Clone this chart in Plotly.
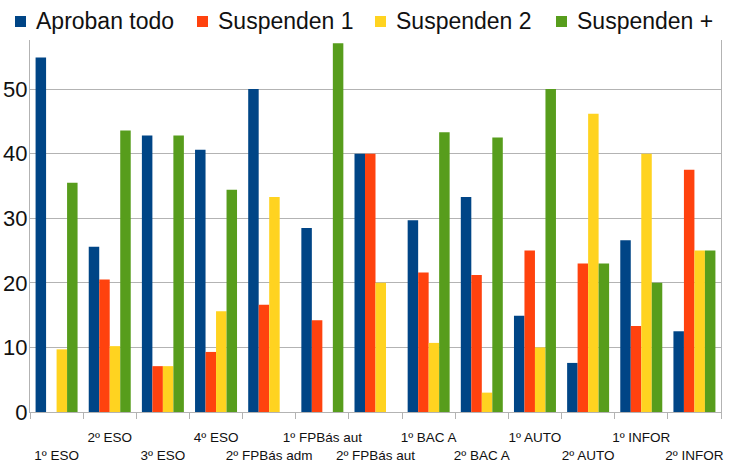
import plotly.graph_objects as go

categories = ["1º ESO", "2º ESO", "3º ESO", "4º ESO", "2º FPBás adm", "1º FPBás aut",
              "2º FPBás aut", "1º BAC A", "2º BAC A", "1º AUTO", "2º AUTO", "1º INFOR", "2º INFOR"]
aproban_todo = [54.9, 25.6, 42.8, 40.6, 50.0, 28.5, 40.0, 29.7, 33.3, 14.9, 7.6, 26.6, 12.5]
suspenden_1 = [0, 20.5, 7.1, 9.3, 16.6, 14.2, 40.0, 21.6, 21.2, 25.0, 23.0, 13.3, 37.5]
suspenden_2 = [9.7, 10.2, 7.1, 15.6, 33.3, 0, 20.0, 10.7, 3.0, 10.0, 46.2, 40.0, 25.0]
suspenden_mas = [35.5, 43.6, 42.8, 34.4, 0, 57.1, 0, 43.3, 42.5, 50.0, 23.0, 20.0, 25.0]

series_names = ["Aproban todo", "Suspenden 1", "Suspenden 2", "Suspenden +"]
series_values = [aproban_todo, suspenden_1, suspenden_2, suspenden_mas]
colors = ["#004586", "#ff420e", "#ffd320", "#579d1c"]

# staggered tick labels: odd positions on the lower row
tick_text = [("<br>" + c) if i % 2 == 0 else c for i, c in enumerate(categories)]

W, H = 734, 463
ML, MR, MT, MB = 30, 13, 40, 51
PW, PH = W - ML - MR, H - MT - MB


def px_to_paper_x(p):
    return (p - ML) / PW


def px_to_paper_y(p):
    return (H - MB - p) / PH


fig = go.Figure()
for name, vals, col in zip(series_names, series_values, colors):
    fig.add_trace(go.Bar(x=categories, y=vals, name=name, marker_color=col,
                         marker_line_width=0))

# manual legend: colour squares + labels
legend_sq_px = [15, 197, 375, 556]
for name, col, sx in zip(series_names, colors, legend_sq_px):
    fig.add_shape(type="rect", xref="paper", yref="paper",
                  x0=px_to_paper_x(sx), x1=px_to_paper_x(sx + 11),
                  y0=px_to_paper_y(27), y1=px_to_paper_y(16),
                  fillcolor=col, line_width=0)
    fig.add_annotation(
        xref="paper", yref="paper", x=px_to_paper_x(sx + 19), y=px_to_paper_y(21),
        xanchor="left", yanchor="middle", text=name, showarrow=False,
        font=dict(size=23, color="#111", family="Liberation Sans, Arial, sans-serif"),
    )

fig.update_layout(
    width=W, height=H,
    margin=dict(l=ML, r=MR, t=MT, b=MB, autoexpand=False),
    barmode="group", bargap=0.21, bargroupgap=0,
    showlegend=False,
    plot_bgcolor="white", paper_bgcolor="white",
    font=dict(family="Liberation Sans, Arial, sans-serif", color="#111"),
)
fig.update_xaxes(
    type="category", tickmode="array", tickvals=categories, ticktext=tick_text,
    tickson="boundaries", ticks="outside", ticklen=6, tickcolor="#b3b3b3",
    tickangle=0, automargin=False, ticklabelstandoff=13,
    showgrid=False, showline=True, linecolor="#b3b3b3", linewidth=1,
    tickfont=dict(size=13.5, family="Liberation Sans Narrow, Arial Narrow, Liberation Sans, sans-serif", color="#111"),
)
fig.update_yaxes(
    range=[0, 57.6], tickvals=[0, 10, 20, 30, 40, 50], automargin=False,
    showgrid=True, gridcolor="#b3b3b3", gridwidth=1,
    showline=True, linecolor="#b3b3b3", linewidth=1, mirror=True,
    zeroline=False, ticks="", ticklabelstandoff=-3,
    tickfont=dict(size=22, color="#111"),
)

fig.write_html("out.html", config={"displayModeBar": False},
               post_script="document.body.style.margin='0';document.body.style.overflow='hidden';")
